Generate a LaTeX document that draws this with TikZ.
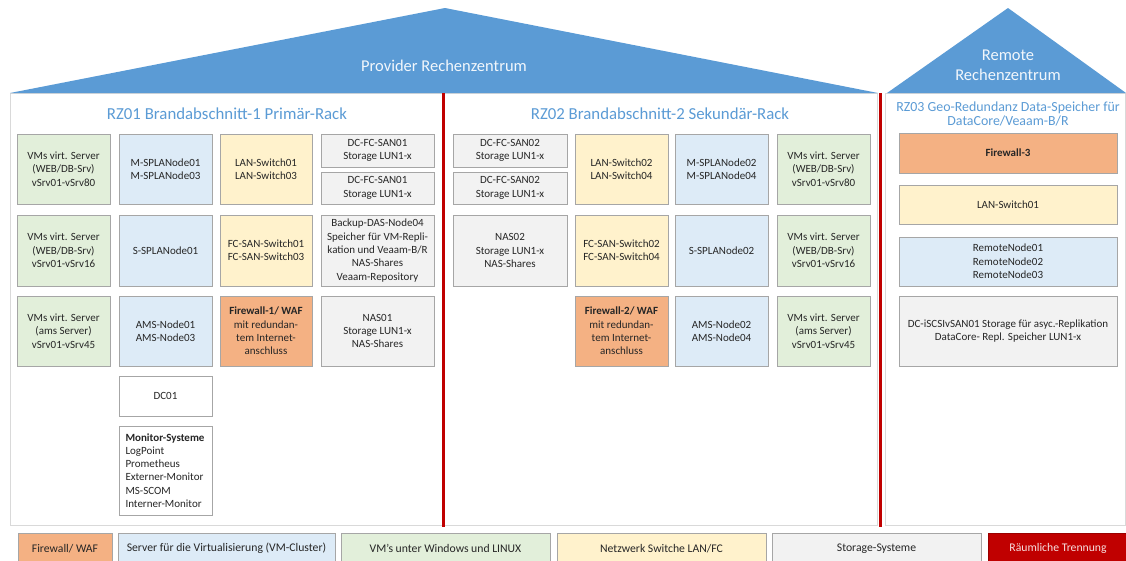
\documentclass[tikz,border=0pt]{standalone}
\usepackage{fontspec}
\setmainfont{Carlito}
\usetikzlibrary{fit,shadows}
\definecolor{roofblue}{HTML}{5B9BD5}
\definecolor{titleblue}{HTML}{5B9BD5}
\definecolor{cgreen}{HTML}{E2EFDA}
\definecolor{cblue}{HTML}{DDEBF7}
\definecolor{cyellow}{HTML}{FFF2CC}
\definecolor{corange}{HTML}{F4B183}
\definecolor{cgray}{HTML}{F2F2F2}
\definecolor{cred}{HTML}{C00000}
\definecolor{bordergray}{HTML}{A6A6A6}
\definecolor{panelgray}{HTML}{D9D9D9}
\definecolor{txt}{HTML}{262626}
\newcommand\mybox[7]{\node[box,#6,fit={(#2,#3) (#4,#5)}] (#1) {};
  \node[boxtext] (#1t) at (#1.center) {#7};}
\newcommand\mylegend[6]{\node[legend,#5,fit={(#2,533) (#3,562)}] (#1) {};
  \node[legendtext,#4] (#1t) at ([yshift=-1pt]#1.center) {#6};}
\begin{document}
\begin{tikzpicture}[x=1pt,y=-1pt,
  box/.style={draw=bordergray,line width=0.9pt,inner sep=0pt,
    drop shadow={shadow xshift=1.2pt,shadow yshift=-1.2pt,fill=black,opacity=0.18}},
  boxtext/.style={inner sep=0pt,align=center,text=txt,font=\fontsize{11}{13.3}\selectfont},
  green/.style={fill=cgreen},
  blue/.style={fill=cblue},
  yellow/.style={fill=cyellow},
  orange/.style={fill=corange},
  grayb/.style={fill=cgray},
  whiteb/.style={fill=white},
  legend/.style={draw=bordergray,line width=0.9pt,inner sep=0pt},
  legendtext/.style={inner sep=0pt,align=center,text=txt,font=\fontsize{11.7}{13}\selectfont},
  panel/.style={draw=panelgray,line width=1pt,fill=white},
  sep/.style={draw=cred,line width=2.4pt},
  rooftext/.style={text=white!92!roofblue,font=\fontsize{16.5}{20}\selectfont,align=center},
  paneltitle/.style={text=titleblue,font=\fontsize{16.8}{18}\selectfont,align=center}
]
\useasboundingbox (0,0) rectangle (1126,560);
% panels
\draw[panel] (10,93) rectangle (877,525);
\draw[panel] (885,93) rectangle (1125,525);
% roofs
\fill[roofblue] (10,93) -- (445,8) -- (878,93) -- cycle;
\fill[roofblue] (887,93) -- (1008,8) -- (1126,93) -- cycle;
\node[rooftext] (roofA) at (444,66) {Provider Rechenzentrum};
\node[rooftext] (roofB) at (1008,65) {Remote\\Rechenzentrum};
% separators
\coordinate (s1t) at (443.5,93); \coordinate (s1b) at (443.5,527);
\coordinate (s2t) at (880.5,93); \coordinate (s2b) at (880.5,527);
\draw[sep] (s1t) -- (s1b);
\draw[sep] (s2t) -- (s2b);
% titles
\node[paneltitle] (t1) at (227,114) {RZ01 Brandabschnitt-1 Primär-Rack};
\node[paneltitle] (t2) at (660,114) {RZ02 Brandabschnitt-2 Sekundär-Rack};
\node[paneltitle,font=\fontsize{13.9}{14.5}\selectfont] (t3) at (1008,114) {RZ03 Geo-Redundanz Data-Speicher für\\DataCore/Veaam-B/R};
% RZ01
\mybox{a11}{17}{134}{110}{204}{green}{VMs virt. Server\\(WEB/DB-Srv)\\vSrv01-vSrv80}
\mybox{a12}{119}{134}{212}{204}{blue}{M-SPLANode01\\M-SPLANode03}
\mybox{a13}{220}{134}{312}{204}{yellow}{LAN-Switch01\\LAN-Switch03}
\mybox{a14}{321}{134}{434}{167}{grayb}{DC-FC-SAN01\\Storage LUN1-x}
\mybox{a15}{321}{172}{434}{204}{grayb}{DC-FC-SAN01\\Storage LUN1-x}
\mybox{a21}{17}{215}{110}{286}{green}{VMs virt. Server\\(WEB/DB-Srv)\\vSrv01-vSrv16}
\mybox{a22}{119}{215}{212}{286}{blue}{S-SPLANode01}
\mybox{a23}{220}{215}{312}{286}{yellow}{FC-SAN-Switch01\\FC-SAN-Switch03}
\mybox{a24}{321}{215}{434}{286}{grayb}{Backup-DAS-Node04\\Speicher für VM-Repli-\\kation und Veaam-B/R\\NAS-Shares\\Veaam-Repository}
\mybox{a31}{17}{296}{110}{366}{green}{VMs virt. Server\\(ams Server)\\vSrv01-vSrv45}
\mybox{a32}{119}{296}{212}{366}{blue}{AMS-Node01\\AMS-Node03}
\mybox{a33}{220}{296}{312}{366}{orange}{\textbf{Firewall-1/ WAF}\\mit redundan-\\tem Internet-\\anschluss}
\mybox{a34}{321}{296}{434}{366}{grayb}{NAS01\\Storage LUN1-x\\NAS-Shares}
\mybox{a42}{119}{376}{212}{416}{whiteb}{DC01}
\node[box,whiteb,fit={(119,426) (212,515)}] (a52) {};
\node[boxtext,text width=82pt,align=left] (a52t) at ([xshift=1pt]a52.center) {\textbf{Monitor-Systeme}\\LogPoint\\Prometheus\\Externer-Monitor\\MS-SCOM\\Interner-Monitor};
% RZ02
\mybox{b11}{453}{134}{567}{167}{grayb}{DC-FC-SAN02\\Storage LUN1-x}
\mybox{b12}{453}{172}{567}{204}{grayb}{DC-FC-SAN02\\Storage LUN1-x}
\mybox{b13}{575}{134}{668}{204}{yellow}{LAN-Switch02\\LAN-Switch04}
\mybox{b14}{675}{134}{768}{204}{blue}{M-SPLANode02\\M-SPLANode04}
\mybox{b15}{777}{134}{870}{204}{green}{VMs virt. Server\\(WEB/DB-Srv)\\vSrv01-vSrv80}
\mybox{b21}{453}{215}{567}{286}{grayb}{NAS02\\Storage LUN1-x\\NAS-Shares}
\mybox{b22}{575}{215}{668}{286}{yellow}{FC-SAN-Switch02\\FC-SAN-Switch04}
\mybox{b23}{675}{215}{768}{286}{blue}{S-SPLANode02}
\mybox{b24}{777}{215}{870}{286}{green}{VMs virt. Server\\(WEB/DB-Srv)\\vSrv01-vSrv16}
\mybox{b32}{575}{296}{668}{366}{orange}{\textbf{Firewall-2/ WAF}\\mit redundan-\\tem Internet-\\anschluss}
\mybox{b33}{675}{296}{768}{366}{blue}{AMS-Node02\\AMS-Node04}
\mybox{b34}{777}{296}{870}{366}{green}{VMs virt. Server\\(ams Server)\\vSrv01-vSrv45}
% RZ03
\mybox{c1}{899}{133}{1117}{173}{orange}{\textbf{Firewall-3}}
\mybox{c2}{899}{185}{1117}{224}{yellow}{LAN-Switch01}
\mybox{c3}{899}{237}{1117}{286}{blue}{RemoteNode01\\RemoteNode02\\RemoteNode03}
\mybox{c4}{899}{296}{1117}{366}{grayb}{DC-iSCSIvSAN01 Storage für asyc.-Replikation\\DataCore- Repl. Speicher LUN1-x}
% legend
\mylegend{l1}{18}{112}{}{fill=corange}{Firewall/ WAF}
\mylegend{l2}{118}{335}{}{fill=cblue}{Server für die Virtualisierung (VM-Cluster)}
\mylegend{l3}{341}{550}{}{fill=cgreen}{VM's unter Windows und LINUX}
\mylegend{l4}{557}{766}{}{fill=cyellow}{Netzwerk Switche LAN/FC}
\mylegend{l5}{772}{981}{}{fill=cgray}{Storage-Systeme}
\mylegend{l6}{988}{1128}{text=white!88!cred}{fill=cred,draw=cred!80!black}{Räumliche Trennung}
\end{tikzpicture}
\end{document}
